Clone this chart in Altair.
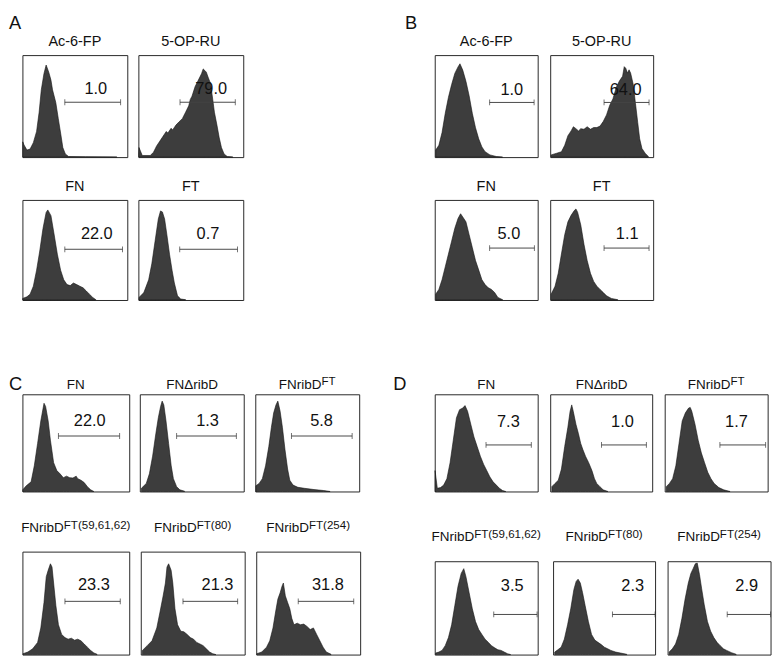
import math
import altair as alt
import pandas as pd

# ---------------- data (x: % of axis width, y: % of axis height) ----------------
# Panel A
a_ac6fp_x = [0.3, 1.5, 4.3, 7.3, 10.4, 13.5, 15.9, 18.0, 20.5, 22.6, 25.1, 27.2, 28.7, 31.8, 34.2, 36.4, 38.5, 40.9, 44.0, 60.0, 90.0]
a_ac6fp_y = [15.0, 12.0, 6.9, 7.9, 14.2, 25.2, 44.0, 66.0, 81.8, 90.3, 83.3, 75.5, 66.0, 53.5, 37.7, 23.6, 9.4, 3.1, 0.6, 0.4, 0.2]
a_5op_x = [0.3, 0.6, 3.7, 11.3, 14.4, 17.4, 20.5, 23.5, 26.6, 28.1, 31.2, 32.7, 35.8, 38.8, 41.9, 45.0, 48.0, 49.5, 51.1, 54.1, 57.2, 60.2, 61.8, 63.3, 64.8, 66.4, 68.8, 70.9, 72.5, 74.9, 77.1, 79.2, 81.7, 84.7, 90.0]
a_5op_y = [3.0, 9.4, 1.6, 1.6, 4.7, 11.0, 15.7, 20.4, 25.2, 23.6, 28.3, 26.7, 31.4, 34.6, 37.7, 44.0, 50.3, 56.6, 59.7, 69.2, 75.5, 81.8, 86.5, 85.0, 83.3, 78.6, 72.3, 56.6, 44.0, 31.4, 18.9, 9.4, 3.1, 0.6, 0.2]
a_fn_x = [0.3, 4.3, 7.3, 10.4, 13.5, 16.5, 19.6, 22.6, 24.2, 27.2, 30.3, 33.3, 36.4, 39.4, 42.5, 45.6, 48.6, 51.7, 54.7, 57.8, 60.9, 63.9, 67.0, 70.0]
a_fn_y = [1.6, 3.2, 5.8, 13.8, 29.8, 49.0, 71.5, 87.5, 90.0, 84.3, 65.0, 45.8, 29.8, 20.2, 15.4, 14.4, 17.0, 15.4, 13.8, 12.2, 9.0, 5.8, 2.6, 0.3]
a_ft_x = [0.6, 5.2, 9.8, 12.8, 15.9, 19.0, 21.1, 22.9, 25.0, 27.2, 29.7, 32.1, 34.3, 37.3, 40.4, 45.0]
a_ft_y = [2.6, 7.4, 20.2, 36.2, 58.7, 81.0, 89.0, 88.0, 81.0, 65.0, 45.8, 29.8, 17.0, 4.2, 1.0, 0.3]

# Panel B
b_ac6fp_x = [0.9, 4.0, 7.1, 10.2, 13.3, 16.4, 19.5, 22.6, 24.5, 27.2, 30.3, 33.4, 36.5, 39.6, 42.7, 45.8, 48.9, 53.6, 59.8, 65.9]
b_ac6fp_y = [6.9, 11.6, 24.1, 42.9, 58.6, 71.2, 82.1, 88.4, 91.5, 85.3, 74.3, 60.2, 42.9, 28.8, 17.9, 10.0, 5.3, 2.2, 0.6, 0.0]
b_5op_x = [0.9, 6.3, 10.9, 14.1, 17.2, 20.3, 22.5, 25.0, 27.5, 29.7, 32.8, 35.9, 39.1, 42.2, 45.3, 48.4, 51.6, 54.7, 57.8, 60.9, 64.1, 67.2, 70.3, 71.9, 73.4, 75.0, 76.6, 78.1, 80.6, 82.8, 85.0, 86.9, 89.1, 92.2, 95.3]
b_5op_y = [2.2, 3.8, 5.3, 11.6, 21.0, 25.7, 29.8, 27.9, 25.7, 27.9, 27.3, 29.8, 27.3, 29.0, 29.0, 30.4, 35.1, 41.4, 50.8, 57.1, 68.3, 74.6, 79.3, 88.7, 87.1, 82.4, 85.6, 82.4, 71.5, 52.7, 33.9, 17.9, 8.5, 3.8, 0.6]
b_fn_x = [0.9, 4.0, 7.1, 10.2, 13.3, 16.4, 19.5, 22.6, 25.1, 27.2, 30.3, 33.4, 36.5, 39.6, 42.7, 45.8, 48.9, 52.0, 55.1, 58.2, 61.3, 65.9]
b_fn_y = [5.8, 10.6, 20.3, 33.1, 45.9, 58.8, 71.7, 81.4, 86.2, 83.0, 78.1, 65.3, 52.4, 39.5, 29.9, 20.3, 15.4, 12.2, 10.6, 7.4, 2.6, 0.3]
b_ft_x = [0.9, 4.7, 7.8, 10.9, 14.1, 17.2, 20.3, 23.4, 25.0, 26.6, 29.7, 32.8, 35.9, 39.1, 42.2, 45.3, 48.4, 51.6, 54.7, 59.4, 65.6]
b_ft_y = [5.8, 13.8, 26.7, 46.0, 65.3, 78.1, 84.6, 89.4, 91.0, 87.8, 74.9, 55.6, 39.5, 26.7, 18.6, 13.8, 10.6, 7.4, 4.2, 1.6, 0.3]

# Panel C
c_fn_x = [0.3, 3.6, 8.1, 11.1, 14.2, 17.2, 20.2, 21.7, 24.1, 26.2, 29.2, 32.2, 35.2, 38.3, 41.3, 44.3, 47.3, 50.3, 51.8, 54.8, 57.8, 60.8, 63.9, 66.9]
c_fn_y = [1.7, 5.9, 9.9, 26.4, 49.5, 72.6, 90.8, 87.5, 72.6, 52.8, 29.7, 21.5, 18.2, 14.2, 15.8, 14.2, 13.9, 15.8, 13.2, 11.6, 9.2, 5.0, 1.7, 0.0]
c_drib_x = [1.5, 6.2, 9.2, 12.3, 15.4, 17.8, 20.0, 21.5, 23.1, 25.2, 27.7, 30.2, 32.3, 35.4, 38.5, 43.1]
c_drib_y = [3.3, 8.3, 18.2, 36.3, 59.4, 75.9, 87.5, 93.0, 89.0, 72.6, 49.5, 26.4, 13.2, 5.0, 1.7, 0.3]
c_ribft_x = [0.6, 3.7, 6.8, 9.9, 13.0, 15.5, 17.7, 19.9, 21.7, 23.9, 26.1, 28.6, 31.1, 33.2, 36.3, 41.0, 47.2, 56.5, 65.8, 72.0]
c_ribft_y = [5.9, 8.3, 13.2, 26.4, 46.2, 66.0, 80.9, 89.1, 93.0, 82.5, 66.0, 42.9, 23.1, 11.6, 6.6, 4.3, 3.3, 2.0, 1.0, 0.0]
c_m596162_x = [0.6, 5.1, 9.6, 14.2, 17.2, 20.2, 22.3, 24.1, 26.2, 27.7, 29.2, 31.3, 33.7, 36.7, 39.8, 42.8, 45.8, 48.8, 51.8, 54.8, 57.8, 60.8, 63.9, 66.9, 69.9]
c_m596162_y = [0.9, 2.5, 5.6, 11.8, 25.9, 50.8, 75.7, 81.9, 88.2, 85.0, 69.5, 47.7, 29.0, 19.6, 16.5, 15.0, 15.9, 14.0, 15.0, 13.4, 10.3, 7.2, 4.0, 1.6, 0.3]
c_m80_x = [1.5, 6.2, 10.8, 15.4, 18.5, 21.5, 23.7, 25.2, 26.8, 29.2, 30.8, 32.9, 35.4, 38.5, 41.5, 44.6, 47.7, 50.8, 53.8, 56.9, 60.0, 63.1, 66.2, 69.2, 72.3]
c_m80_y = [4.0, 8.7, 13.4, 25.9, 41.4, 57.0, 69.5, 85.0, 88.2, 81.9, 69.5, 44.5, 29.0, 22.7, 22.1, 19.6, 16.5, 15.0, 11.8, 10.3, 8.7, 5.6, 2.5, 0.9, 0.0]
c_m254_x = [0.6, 5.3, 9.9, 13.0, 16.1, 18.6, 20.8, 23.0, 24.8, 26.1, 28.0, 30.1, 32.3, 34.2, 36.3, 39.4, 42.5, 45.7, 48.8, 51.9, 55.0, 58.1, 61.2, 64.3, 67.4, 72.0]
c_m254_y = [0.9, 2.5, 7.2, 13.4, 25.9, 41.4, 53.9, 60.1, 66.4, 69.5, 57.0, 50.8, 44.5, 35.2, 29.0, 30.5, 29.0, 29.6, 27.4, 24.3, 25.9, 19.6, 13.4, 7.2, 2.5, 0.3]

# Panel D
d_fn_x = [0.3, 2.5, 5.6, 8.7, 11.8, 14.9, 18.0, 21.1, 24.1, 27.2, 29.4, 31.9, 35.0, 38.1, 41.2, 44.3, 47.4, 50.5, 53.6, 56.7, 59.8, 62.8, 65.9, 69.0]
d_fn_y = [21.5, 3.3, 4.0, 6.6, 13.2, 29.7, 52.8, 75.9, 84.2, 85.8, 88.4, 82.5, 69.3, 56.1, 46.2, 36.3, 28.1, 21.5, 14.9, 9.9, 6.6, 3.3, 1.0, 0.0]
d_drib_x = [1.6, 4.7, 7.9, 11.0, 14.2, 17.3, 19.5, 21.1, 22.6, 25.2, 27.7, 29.9, 32.1, 34.6, 37.7, 40.9, 43.4, 45.6, 48.7, 51.9, 56.6]
d_drib_y = [5.0, 8.3, 11.6, 23.1, 46.2, 66.0, 82.5, 89.1, 82.5, 69.3, 59.4, 49.5, 42.9, 36.3, 29.7, 21.5, 13.2, 8.3, 5.0, 1.7, 0.0]
d_ribft_x = [1.5, 4.6, 7.7, 10.8, 13.9, 17.0, 20.1, 23.2, 24.8, 26.3, 29.4, 32.5, 35.6, 38.7, 41.8, 44.9, 48.0, 52.6, 57.3, 63.5]
d_ribft_y = [5.0, 8.3, 13.2, 26.4, 49.5, 72.6, 80.9, 85.8, 86.5, 82.5, 69.3, 52.8, 39.6, 29.7, 19.8, 13.2, 8.3, 4.0, 1.7, 0.0]
d_m596162_x = [0.9, 4.0, 7.1, 10.2, 13.3, 16.4, 19.5, 22.6, 25.7, 28.2, 30.3, 33.4, 36.5, 39.6, 42.7, 45.8, 48.9, 52.0, 55.1, 58.2, 61.3, 64.4, 67.5, 70.6, 73.7]
d_m596162_y = [1.7, 2.7, 4.5, 9.6, 18.2, 31.9, 52.6, 73.2, 87.0, 92.1, 83.5, 66.3, 49.1, 35.4, 26.8, 21.6, 16.5, 13.1, 9.6, 7.2, 5.2, 4.5, 2.7, 1.0, 0.0]
d_m80_x = [1.6, 4.7, 7.9, 11.0, 14.2, 17.3, 20.4, 22.6, 24.5, 26.7, 28.9, 31.4, 34.6, 37.7, 40.9, 44.0, 47.2, 50.3, 53.5, 56.6, 61.3, 66.0, 72.3]
d_m80_y = [2.7, 5.2, 7.9, 16.5, 31.9, 49.1, 69.8, 78.4, 80.8, 76.6, 66.3, 52.6, 35.4, 21.6, 15.5, 13.1, 10.7, 7.9, 6.2, 4.5, 2.7, 1.7, 0.3]
d_m254_x = [1.5, 4.6, 7.7, 10.8, 13.9, 17.0, 20.1, 22.6, 24.8, 26.9, 28.8, 31.0, 33.1, 35.6, 38.7, 41.8, 44.9, 48.0, 51.1, 54.2, 57.3, 62.0, 66.6]
d_m254_y = [2.7, 6.2, 11.3, 21.6, 38.8, 59.5, 76.6, 86.9, 92.1, 97.3, 98.0, 85.6, 70.4, 53.3, 35.4, 25.1, 18.2, 13.1, 9.6, 6.2, 4.5, 2.1, 0.3]

# gates: [start, end, height]   labels: [text, x, y]
gates_a = [[40.4, 93.6, 53.8], [39.7, 92.4, 53.8], [40.4, 95.4, 50.7], [39.4, 94.5, 50.7]]
labels_a = [["1.0", 70.0, 61.6], ["79.0", 69.4, 61.6], ["22.0", 70.9, 61.3], ["0.7", 66.3, 61.3]]
gates_b = [[53.3, 96.5, 53.6], [52.3, 96.0, 53.6], [53.3, 96.8, 51.9], [52.3, 96.0, 51.9]]
labels_b = [["1.0", 74.8, 60.7], ["64.0", 73.3, 60.7], ["5.0", 72.0, 61.3], ["1.1", 74.8, 61.3]]
gates_c = [[33.7, 91.0, 57.1], [35.4, 92.9, 57.1], [34.8, 93.2, 57.1], [39.8, 91.6, 51.7], [40.6, 93.2, 51.7], [40.4, 93.8, 51.7]]
labels_c = [["22.0", 63.0, 67.6], ["1.3", 65.2, 67.6], ["5.8", 63.7, 67.6], ["23.3", 66.9, 62.6], ["21.3", 73.8, 62.6], ["31.8", 68.9, 62.6]]
gates_d = [[49.8, 93.8, 47.9], [50.3, 94.3, 47.9], [53.6, 98.0, 47.9], [57.3, 99.4, 43.0], [58.2, 100.0, 43.0], [57.9, 100.0, 43.0]]
labels_d = [["7.3", 71.5, 66.0], ["1.0", 70.8, 66.0], ["1.7", 69.7, 66.0], ["3.5", 75.2, 68.0], ["2.3", 78.0, 68.0], ["2.9", 76.8, 68.0]]

titles_ab = [("Ac-6-FP", ""), ("5-OP-RU", ""), ("FN", ""), ("FT", "")]
titles_cd = [("FN", ""), ("FN\u0394ribD", ""), ("FNribD", "FT"),
             ("FNribD", "FT(59,61,62)"), ("FNribD", "FT(80)"), ("FNribD", "FT(254)")]

# ---------------- style ----------------
FONT = "Liberation Sans"
FILL = "#3d3d3d"
EDGE = "#111111"
GATE = "#444444"
INK = "#111111"
TICK = 3

CW = {"A": 667, "B": 667, "C": 722, "D": 722, "F": 611, "N": 722, "O": 778, "P": 667, "R": 722,
      "T": 611, "U": 722, "b": 556, "c": 500, "i": 222, "r": 333, "-": 333, "(": 333, ")": 333,
      ",": 278, ".": 278, "\u0394": 612, " ": 278}


def tw(s, fs):
    return sum(CW.get(ch, 556) for ch in s) * fs / 1000.0


DEC = 21.3
XT = sorted(set(round(d * DEC + DEC * math.log10(k), 2) for d in range(5) for k in range(1, 10)
                if d * DEC + DEC * math.log10(k) <= 100))
YT = [i * 6.25 for i in range(17)]


def axis(vals):
    return alt.Axis(values=vals, labels=False, title=None, domain=False, grid=False,
                    tickColor="#222", tickWidth=1, tickSize=TICK)


def panel(cx, cy, gate, label, title, sup, w, h, tfs, sfs, tdy, letter=None, lx=0, ly=0, ext=0):
    xs = alt.Scale(domain=[0, 100], nice=False, zero=False)
    ys = alt.Scale(domain=[0, 100], nice=False, zero=False)
    curve = pd.DataFrame({"x": cx, "y": cy})
    area = alt.Chart(curve).mark_area(fill=FILL, stroke=EDGE, strokeWidth=0.6).encode(
        x=alt.X("x:Q", scale=xs, axis=axis(XT)),
        y=alt.Y("y:Q", scale=ys, axis=axis(YT)))
    gdf = pd.DataFrame({"x1": [gate[0]], "x2": [gate[1]], "gy": [gate[2]]})
    rule = alt.Chart(gdf).mark_rule(color=GATE, strokeWidth=1).encode(
        x=alt.X("x1:Q", scale=xs, axis=None), x2="x2:Q",
        y=alt.Y("gy:Q", scale=ys, axis=None))
    cdf = pd.DataFrame({"cx": [gate[0], gate[1]], "cy": [gate[2], gate[2]]})
    caps = alt.Chart(cdf).mark_tick(orient="vertical", size=6, thickness=1, color="#333").encode(
        x=alt.X("cx:Q", scale=xs, axis=None), y=alt.Y("cy:Q", scale=ys, axis=None))
    ldf = pd.DataFrame({"t": [label[0]], "lx": [label[1]], "ly": [label[2]]})
    lab = alt.Chart(ldf).mark_text(font=FONT, fontSize=17, color=INK, align="center",
                                   baseline="alphabetic").encode(
        x=alt.X("lx:Q", scale=xs, axis=None), y=alt.Y("ly:Q", scale=ys, axis=None), text="t:N")
    layers = [area, rule, caps, lab]
    mw = tw(title, tfs)
    sw = tw(sup, sfs) if sup else 0.0
    x0 = w / 2.0 - (mw + sw) / 2.0
    layers.append(alt.Chart(pd.DataFrame({"t": [title]})).mark_text(
        font=FONT, fontSize=tfs, color=INK, align="left", baseline="alphabetic").encode(
        x=alt.value(x0), y=alt.value(-tdy), text="t:N"))
    if sup:
        layers.append(alt.Chart(pd.DataFrame({"t": [sup]})).mark_text(
            font=FONT, fontSize=sfs, color=INK, align="left", baseline="alphabetic").encode(
            x=alt.value(x0 + mw), y=alt.value(-tdy - 3.5), text="t:N"))
    if letter:
        layers.append(alt.Chart(pd.DataFrame({"t": [letter]})).mark_text(
            font=FONT, fontSize=19, color=INK, align="left", baseline="alphabetic").encode(
            x=alt.value(lx), y=alt.value(ly), text="t:N"))
    if ext:
        # invisible spacer so both rows of a block share the same left extent
        layers.append(alt.Chart(pd.DataFrame({"t": [0]})).mark_rule(opacity=0).encode(
            x=alt.value(-ext), x2=alt.value(-ext + 1), y=alt.value(h / 2.0)))
    return alt.layer(*layers).properties(width=w, height=h)


# ---------------- panels ----------------
a_curves = [(a_ac6fp_x, a_ac6fp_y), (a_5op_x, a_5op_y), (a_fn_x, a_fn_y), (a_ft_x, a_ft_y)]
b_curves = [(b_ac6fp_x, b_ac6fp_y), (b_5op_x, b_5op_y), (b_fn_x, b_fn_y), (b_ft_x, b_ft_y)]
c_curves = [(c_fn_x, c_fn_y), (c_drib_x, c_drib_y), (c_ribft_x, c_ribft_y),
            (c_m596162_x, c_m596162_y), (c_m80_x, c_m80_y), (c_m254_x, c_m254_y)]
d_curves = [(d_fn_x, d_fn_y), (d_drib_x, d_drib_y), (d_ribft_x, d_ribft_y),
            (d_m596162_x, d_m596162_y), (d_m80_x, d_m80_y), (d_m254_x, d_m254_y)]

a_w = [109, 109, 109, 109]; a_h = [106, 106, 104, 104]
b_w = [107, 107, 107, 107]; b_h = [106, 106, 104, 104]
c_w = [111, 108, 108, 111, 108, 108]; c_h = [101, 101, 101, 107, 107, 107]
d_w = [107, 106, 107, 107, 106, 107]; d_h = [101, 101, 101, 97, 97, 97]


def build(curves, gates, labels, titles, ws, hs, ncol, tfs, sfs, tdys, letter, lx, ly):
    ps = []
    for i, (cv, g, l, t) in enumerate(zip(curves, gates, labels, titles)):
        kw = {}
        if i == 0:
            kw = dict(letter=letter, lx=lx, ly=ly)
        elif i == ncol:
            kw = dict(ext=-lx)
        ps.append(panel(cv[0], cv[1], g, l, t[0], t[1], ws[i], hs[i], tfs, sfs, tdys[i // ncol], **kw))
    return ps


pa = build(a_curves, gates_a, labels_a, titles_ab, a_w, a_h, 2, 15, 11, [10, 9], "A", -14, -27)
pb = build(b_curves, gates_b, labels_b, titles_ab, b_w, b_h, 2, 15, 11, [10, 9], "B", -31, -27)
pc = build(c_curves, gates_c, labels_c, titles_cd, c_w, c_h, 3, 14, 12, [6, 20], "C", -14, -4)
pd_ = build(d_curves, gates_d, labels_d, titles_cd, d_w, d_h, 3, 14, 12, [6, 21], "D", -43, -4)

blockA = alt.vconcat(alt.hconcat(pa[0], pa[1], spacing=8.5), alt.hconcat(pa[2], pa[3], spacing=8.5), spacing=20.5)
blockB = alt.vconcat(alt.hconcat(pb[0], pb[1], spacing=11), alt.hconcat(pb[2], pb[3], spacing=11), spacing=20.5)
blockC = alt.vconcat(alt.hconcat(*pc[:3], spacing=9), alt.hconcat(*pc[3:], spacing=9), spacing=26.5)
blockD = alt.vconcat(alt.hconcat(*pd_[:3], spacing=11), alt.hconcat(*pd_[3:], spacing=11), spacing=35.5)

top = alt.hconcat(blockA, blockB, spacing=166.5)
bottom = alt.hconcat(blockC, blockD, spacing=32.5)

chart = alt.vconcat(top, bottom, spacing=75.5).properties(
    padding={"left": 0, "top": -7, "right": 0, "bottom": 0}
).configure_view(stroke="#222", strokeWidth=1)

chart.save("out.html", embed_options={"renderer": "svg", "actions": False})
